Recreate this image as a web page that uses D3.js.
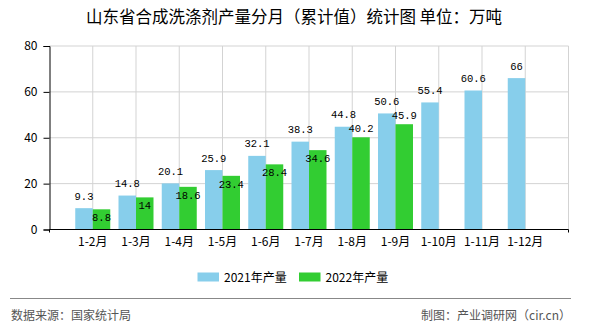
<!DOCTYPE html>
<html><head><meta charset="utf-8">
<script src="https://cdn.jsdelivr.net/npm/d3@7"></script>
<style>
body{margin:0;background:#fff;}
svg{display:block;}
</style></head>
<body>
<svg id="c" width="590" height="330"></svg>
<script>
const categories = ["1-2月","1-3月","1-4月","1-5月","1-6月","1-7月","1-8月","1-9月","1-10月","1-11月","1-12月"];
const values2021 = [9.3,14.8,20.1,25.9,32.1,38.3,44.8,50.6,55.4,60.6,66];
const values2022 = [8.8,14,18.6,23.4,28.4,34.6,40.2,45.9];
const yTicks = [0,20,40,60,80];
const seriesNames = ["2021年产量","2022年产量"];
const titleText = "山东省合成洗涤剂产量分月（累计值）统计图 单位：万吨";
const sourceText = "数据来源：国家统计局";
const creditText = "制图：产业调研网（cir.cn）";

const colors = ["#87CEEB","#32CD32"];
const svg = d3.select("#c");
const L = 49.5, R = 568.5, T = 46, B = 229.5;
const cjk = "'Noto Sans CJK SC', 'Noto Sans', sans-serif";
const mono = "'Liberation Mono','DejaVu Sans Mono',monospace";

const x = d3.scalePoint().domain(["__s", ...categories, "__e"]).range([L, R]).padding(0);
const y = d3.scaleLinear().domain([0, 80]).range([B, T]);
const bw = 17.5;

// title
svg.append("text").attr("x", 294).attr("y", 23).attr("text-anchor","middle")
  .style("font-family", cjk).style("font-size","16.5px").attr("fill","#000").text(titleText);

// grid
const g = svg.append("g");
g.selectAll("line.h").data(yTicks.filter(d=>d>0)).join("line")
  .attr("x1", L).attr("x2", R).attr("y1", d=>y(d)).attr("y2", d=>y(d))
  .attr("stroke","#d3d3d3").attr("stroke-width",1);
g.selectAll("line.v").data([...categories, "__e"]).join("line")
  .attr("x1", d=>x(d)).attr("x2", d=>x(d)).attr("y1", T).attr("y2", B)
  .attr("stroke","#d3d3d3").attr("stroke-width",1);

// bars
svg.append("g").selectAll("rect").data(values2021).join("rect")
  .attr("x",(d,i)=>x(categories[i]) - bw).attr("width", bw)
  .attr("y", d=>y(d)).attr("height", d=>B - y(d)).attr("fill", colors[0]);
svg.append("g").selectAll("rect").data(values2022).join("rect")
  .attr("x",(d,i)=>x(categories[i])).attr("width", bw)
  .attr("y", d=>y(d)).attr("height", d=>B - y(d)).attr("fill", colors[1]);

// axes
const yAxis = d3.axisLeft(y).tickValues(yTicks).tickSize(6).tickPadding(6);
const ya = svg.append("g").attr("transform",`translate(${L},0)`).call(yAxis);
ya.select(".domain").attr("stroke","#000");
ya.selectAll(".tick line").attr("stroke","#000");
ya.selectAll("text").style("font-family", cjk).style("font-size","12px").attr("fill","#000");

const xa = svg.append("g");
xa.append("line").attr("x1",L).attr("x2",R).attr("y1",B).attr("y2",B).attr("stroke","#000");
xa.selectAll("line.t").data(["__s","__e"]).join("line")
  .attr("x1",d=>x(d)).attr("x2",d=>x(d)).attr("y1",B).attr("y2",B+3).attr("stroke","#000");
xa.selectAll("text").data(categories).join("text")
  .attr("x", d=>x(d)).attr("y", 246).attr("text-anchor","middle")
  .style("font-family", cjk).style("font-size","12px").attr("fill","#000").text(d=>d);

// value labels
svg.append("g").selectAll("text").data(values2021).join("text")
  .attr("x",(d,i)=>x(categories[i]) - bw/2).attr("y", d=>y(d) - 8.5)
  .attr("text-anchor","middle").style("font-family", mono).style("font-size","10.5px")
  .attr("fill","#000").text(d=>d);
svg.append("g").selectAll("text").data(values2022).join("text")
  .attr("x",(d,i)=>x(categories[i]) + bw/2).attr("y", d=> d >= 40 ? y(d) - 5.5 : y(d) + 12)
  .attr("text-anchor","middle").style("font-family", mono).style("font-size","10.5px")
  .attr("fill","#000").text(d=>d);

// legend
const lg = svg.append("g");
const lx = [197.5, 299];
seriesNames.forEach((n,i)=>{
  lg.append("rect").attr("x", lx[i]).attr("y", 272.5).attr("width", 21.5).attr("height", 9).attr("fill", colors[i]);
  lg.append("text").attr("x", lx[i] + 26.5).attr("y", 282).style("font-family", cjk)
    .style("font-size","12px").attr("fill","#000").text(n);
});

// footer
svg.append("line").attr("x1",10).attr("x2",571).attr("y1",298.5).attr("y2",298.5)
  .attr("stroke","#888").attr("stroke-width",1.2);
svg.append("text").attr("x",11).attr("y",320).style("font-family", cjk).style("font-size","12px")
  .attr("fill","#555").text(sourceText);
svg.append("text").attr("x",571).attr("y",320).attr("text-anchor","end").style("font-family", cjk)
  .style("font-size","12px").attr("fill","#555").text(creditText);
</script>
</body></html>
